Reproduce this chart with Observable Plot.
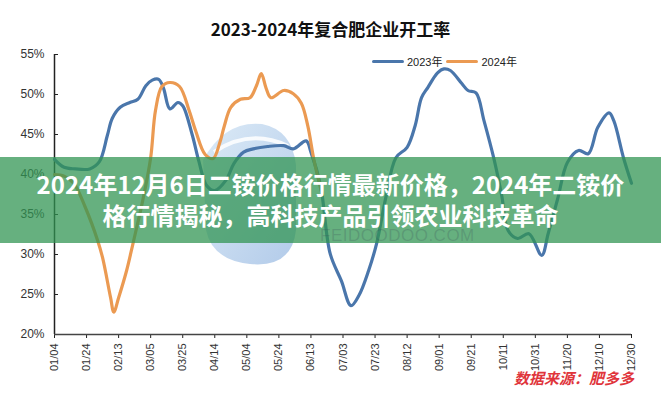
<!DOCTYPE html>
<html>
<head>
<meta charset="utf-8">
<script src="https://cdn.jsdelivr.net/npm/d3@7"></script>
<script src="https://cdn.jsdelivr.net/npm/@observablehq/plot@0.6"></script>
<style>
  body { margin: 0; background: #fff; }
  #wrap { position: relative; width: 661px; height: 400px; overflow: hidden; background: #fff;
          font-family: "Liberation Sans", Arial, sans-serif; }
  #wm { position: absolute; left: 0; top: 0; }
  #chart { position: absolute; left: 0; top: 0; }
  #title { position: absolute; left: 0; width: 661px; top: 18px; line-height: 22px; text-align: center;
           font-family: "Noto Sans CJK SC", sans-serif; font-weight: bold; font-size: 17px; color: #111; }
  #legend { position: absolute; left: 372px; top: 53px; height: 16px; display: flex; align-items: center;
            font-size: 11px; color: #222; font-family: "Liberation Sans", "Noto Sans CJK SC", sans-serif; }
  #legend .sw { width: 32px; height: 3px; margin-right: 3px; border-radius: 2px; }
  #legend .lab { margin-right: 4px; }
  #banner { position: absolute; left: 0; top: 157px; width: 661px; height: 86px;
            background: rgba(48, 148, 82, 0.74); color: #fff; text-align: center;
            font-family: "Noto Sans CJK SC", sans-serif; font-weight: bold; font-size: 24px;
            line-height: 31px; box-sizing: border-box; padding-top: 11px; }
  #source { position: absolute; left: 514px; top: 368px; font-family: "Noto Sans CJK SC", sans-serif;
            font-style: italic; font-weight: bold; font-size: 15px; color: #e0353b; line-height: 20px; }
  #wmtext { position: absolute; left: 320px; top: 229px; font-family: "Liberation Sans", sans-serif;
            font-size: 17px; line-height: 14px; color: rgba(60, 80, 90, 0.25); letter-spacing: 0.5px; }
</style>
</head>
<body>
<div id="wrap">
  <svg id="wm" width="661" height="400">
    <defs>
      <linearGradient id="g1" x1="0" y1="0" x2="1" y2="1">
        <stop offset="0" stop-color="#c4dcf1"/>
        <stop offset="1" stop-color="#7fa8db"/>
      </linearGradient>
    </defs>
    <path d="M203 160 Q225 120 262 124 Q292 130 296 165 L296 230 Q292 268 250 264 Q212 260 206 230 Z"
          fill="url(#g1)" opacity="0.6"/>
    <path d="M214 152 Q250 128 288 146" stroke="#fff" stroke-width="4" fill="none" opacity="0.85"/>
  </svg>
  <div id="chart"></div>
  <div id="title">2023-2024年复合肥企业开工率</div>
  <div id="legend"></div>
  <div id="banner">2024年12月6日二铵价格行情最新价格，2024年二铵价<br>格行情揭秘，高科技产品引领农业科技革命</div>
  <div id="wmtext">FEIDOODOO.COM</div>
  <div id="source">数据来源：肥多多</div>
</div>
<script>
// ---- data ----
const seriesNames = ["2023年", "2024年"];
const seriesColors = ["#4a76ab", "#eb9a52"];

const dates2023 = ["01/04","01/10","01/17","01/26","02/01","02/06","02/09","02/14","02/20","02/25",
  "03/02","03/06","03/10","03/13","03/17","03/22","03/25","03/31","04/04","04/09",
  "04/14","04/21","04/26","05/02","05/08","05/17","05/27","06/02","06/10","06/13",
  "06/19","06/25","07/02","07/08","07/13","07/19","07/24","07/30","08/05","08/12",
  "08/17","08/21","08/25","08/31","09/04","09/08","09/15","09/19","09/24","09/29",
  "10/05","10/10","10/14","10/20","10/27","11/04","11/08","11/14","11/20","11/27",
  "12/03","12/09","12/16","12/19","12/25","12/30"];
const values2023 = [41.9,40.9,40.7,40.7,41.6,44.9,47.0,48.4,49.0,49.4,
  51.1,51.8,51.9,50.8,48.2,49.0,48.6,44.9,41.7,38.6,
  38.0,39.3,41.4,42.8,43.2,43.5,43.6,43.2,44.2,42.8,
  38.6,30.1,26.7,23.6,24.9,28.0,31.4,37.4,42.1,43.4,
  46.1,49.6,50.9,52.7,53.2,53.0,51.4,50.5,50.2,46.7,
  42.1,37.4,33.0,32.0,32.6,29.9,32.6,37.0,41.5,43.0,
  42.6,45.9,47.7,46.7,42.1,38.9];

const dates2024 = ["01/04","01/10","01/16","01/23","01/31","02/03","02/08","02/10","02/13","02/18",
  "02/22","02/28","03/05","03/08","03/12","03/17","03/23","03/29","04/02","04/08",
  "04/13","04/17","04/20","04/24","04/30","05/06","05/10","05/13","05/16","05/19",
  "05/27","06/02","06/07","06/11","06/15","06/20"];
const values2024 = [40.0,39.8,38.9,36.0,31.7,29.6,24.6,22.8,24.6,28.0,
  31.4,36.7,42.1,48.0,51.0,51.5,51.0,48.0,45.5,42.5,
  42.0,43.9,46.1,48.4,49.4,49.6,51.1,52.6,50.8,49.6,
  50.5,50.1,48.9,46.1,41.7,37.5];

const tickLabels = ["01/04","01/24","02/13","03/05","03/25","04/14","05/04","05/24","06/13","07/03",
  "07/23","08/12","09/01","09/21","10/11","10/31","11/20","12/10","12/30"];
const yTicks = [20, 25, 30, 35, 40, 45, 50, 55];

// ---- build ----
const parse = d3.utcParse("%Y/%m/%d");
const toDate = s => parse("2023/" + s);
const rows = [
  ...dates2023.map((d, i) => ({date: toDate(d), value: values2023[i], series: seriesNames[0]})),
  ...dates2024.map((d, i) => ({date: toDate(d), value: values2024[i], series: seriesNames[1]}))
];
const tickDates = tickLabels.map(toDate);
const xDomain = [tickDates[0], tickDates[tickDates.length - 1]];

const chart = Plot.plot({
  width: 661, height: 400,
  marginTop: 54, marginBottom: 66, marginLeft: 54, marginRight: 30,
  style: {background: "transparent", fontFamily: "'Liberation Sans', Arial, sans-serif", color: "#333"},
  x: {type: "utc", domain: xDomain, label: null},
  y: {domain: [20, 55], label: null},
  color: {domain: seriesNames, range: seriesColors},
  marks: [
    Plot.axisY({ticks: yTicks, tickFormat: d => d + "%", tickSize: 0, tickPadding: 10, fontSize: 12, label: null}),
    Plot.axisY({ticks: yTicks, tickFormat: () => "", tickSize: 4, dx: 4, stroke: "#222", label: null}),
    Plot.axisX({ticks: tickDates, tickFormat: d3.utcFormat("%m/%d"), tickRotate: -90, tickSize: 4,
                tickPadding: 5, fontSize: 11, stroke: "#222", label: null}),
    Plot.ruleX([xDomain[0]], {stroke: "#222", strokeWidth: 1.5}),
    Plot.ruleY([20], {stroke: "#444", strokeWidth: 1.5}),
    Plot.line(rows, {x: "date", y: "value", stroke: "series", z: "series", strokeWidth: 3.2,
                     curve: "catmull-rom", strokeLinejoin: "round", strokeLinecap: "round"})
  ]
});
document.getElementById("chart").appendChild(chart);

// legend
const leg = document.getElementById("legend");
seriesNames.forEach((n, i) => {
  const sw = document.createElement("span");
  sw.className = "sw"; sw.style.background = seriesColors[i];
  const lab = document.createElement("span");
  lab.className = "lab"; lab.textContent = n;
  leg.appendChild(sw); leg.appendChild(lab);
});
</script>
</body>
</html>
